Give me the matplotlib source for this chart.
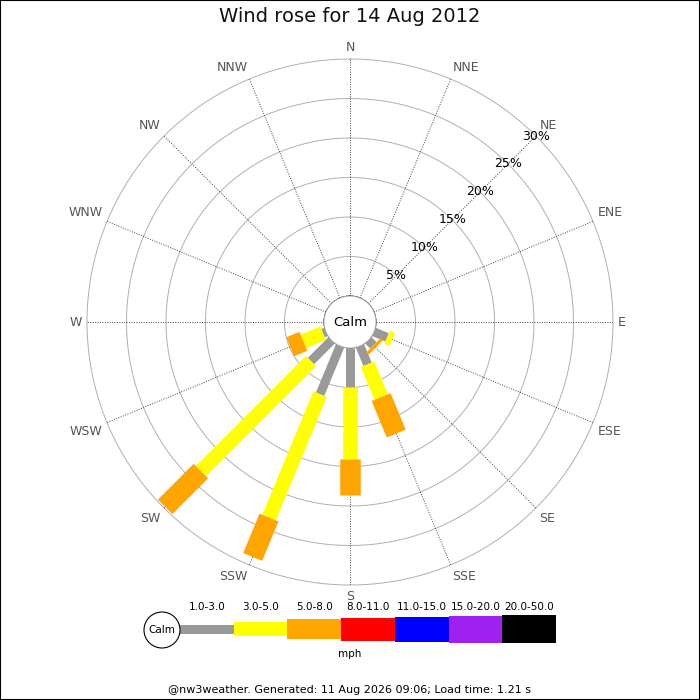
import numpy as np
import matplotlib
matplotlib.use("Agg")
import matplotlib.pyplot as plt
from matplotlib.patches import Circle, Rectangle

# 16 compass points, clockwise from north
directions = ["N", "NNE", "NE", "ENE", "E", "ESE", "SE", "SSE",
              "S", "SSW", "SW", "WSW", "W", "WNW", "NW", "NNW"]

# percent of time per direction and speed band (mph)
pct_1_3 = [0, 0, 0, 0, 0, 1.8, 0.9, 2.5, 4.9, 6.6, 3.7, 0.4, 0, 0, 0, 0]
pct_3_5 = [0, 0, 0, 0, 0, 0.7, 0.0, 4.5, 9.2, 16.9, 19.7, 2.7, 0, 0, 0, 0]
pct_5_8 = [0, 0, 0, 0, 0, 0.0, 0.4, 5.0, 4.5, 5.4, 6.4, 1.8, 0, 0, 0, 0]

speed_ranges = ["1.0-3.0", "3.0-5.0", "5.0-8.0", "8.0-11.0",
                "11.0-15.0", "15.0-20.0", "20.0-50.0"]
range_colors = ["#999999", "#ffff00", "#ffa500", "#ff0000",
                "#0000ff", "#a020f0", "#000000"]
range_px = [9, 14.5, 20.5, 23, 25, 27, 28]   # bar thickness in pixels

rings = [5, 10, 15, 20, 25, 30]

DPI = 100
calm_px = 26.0
outer_px = 263.0
cx, cy = 350, 322
PX = 72.0 / DPI   # points per pixel

fig = plt.figure(figsize=(7, 7), dpi=DPI)

# polar axes positioned in pixels
left = (cx - outer_px) / 700
bottom = (700 - cy - outer_px) / 700
size = 2 * outer_px / 700
ax = fig.add_axes([left, bottom, size, size], projection="polar")
ax.set_theta_zero_location("N")
ax.set_theta_direction(-1)
ax.set_ylim(0, 30)
ax.set_rorigin(-30 * calm_px / (outer_px - calm_px))
ax.grid(False)
ax.set_xticks([])
ax.set_yticks([])
for sp in ax.spines.values():
    sp.set_visible(False)

theta = np.deg2rad(np.arange(16) * 22.5)
full = np.linspace(0, 2 * np.pi, 361)

# grid rings
for r in rings:
    ax.plot(full, np.full_like(full, r), color="#b0b0b0", lw=0.7,
            zorder=1, clip_on=False)
# dotted spokes
for th in theta:
    ax.plot([th, th], [0, 30], color="#444444", lw=0.7,
            linestyle=(0, (1, 1.5)), zorder=1)

# stacked radial bars
bands = [pct_1_3, pct_3_5, pct_5_8]
base = np.zeros(16)
for i, band in enumerate(bands):
    band = np.array(band)
    for th, b0, h in zip(theta, base, band):
        if h > 0:
            ax.plot([th, th], [b0, b0 + h], color=range_colors[i],
                    lw=range_px[i] * PX, solid_capstyle="butt", zorder=3)
    base = base + band

# calm circle in the middle
ax.add_patch(Circle((0.5, 0.5), calm_px / (2 * outer_px),
                    transform=ax.transAxes, facecolor="white",
                    edgecolor="#b0b0b0", lw=0.7, zorder=4, clip_on=False))
ax.text(0.5, 0.5, "Calm", transform=ax.transAxes, ha="center",
        va="center", fontsize=9.5, color="black", zorder=5)

# direction labels just outside the outer ring
gap = 5 / ((outer_px - calm_px) / 30)
for th, name in zip(theta, directions):
    s, c = np.sin(th), np.cos(th)
    ha = "left" if s > 0.1 else ("right" if s < -0.1 else "center")
    va = "bottom" if c > 0.1 else ("top" if c < -0.1 else "center")
    ax.text(th, 30 + gap, name, ha=ha, va=va, fontsize=9,
            color="#555555", clip_on=False)

# percent labels along NE
for r in rings:
    ax.text(np.pi / 4, r, f"{r}%", ha="center", va="center",
            fontsize=9, color="black", zorder=4)

# title
fig.text(0.5, 1 - 17 / 700, "Wind rose for 14 Aug 2012", ha="center",
         va="center", fontsize=14, color="#111111")

# legend strip, axes in pixel units
lx0, lx1, ly0, ly1 = 140, 570, 595, 665
lax = fig.add_axes([lx0 / 700, 1 - ly1 / 700, (lx1 - lx0) / 700,
                    (ly1 - ly0) / 700])
lax.set_xlim(lx0, lx1)
lax.set_ylim(ly1, ly0)
lax.axis("off")
seg_w = 53.7
seg_x = 180 + seg_w * np.arange(len(speed_ranges))
heights = np.array(range_px)
lax.bar(seg_x, heights, bottom=629 - heights / 2, width=seg_w,
        align="edge", color=range_colors, linewidth=0)
for x, lab in zip(seg_x, speed_ranges):
    lax.text(x + seg_w / 2, 607, lab, ha="center", va="center",
             fontsize=7.5, color="black")
lax.add_patch(Circle((162, 630), 18, facecolor="white",
                     edgecolor="black", lw=0.8, zorder=3))
lax.text(162, 630, "Calm", ha="center", va="center", fontsize=7.5, zorder=4)

fig.text(0.5, 1 - 654 / 700, "mph", ha="center", va="center", fontsize=7.5)
fig.text(0.5, 1 - 690 / 700,
         "@nw3weather. Generated: 11 Aug 2026 09:06; Load time: 1.21 s",
         ha="center", va="center", fontsize=8)

fig.patches.append(Rectangle((0, 0), 1, 1, transform=fig.transFigure,
                             fill=False, edgecolor="black", lw=1.5))

fig.savefig("out.png", dpi=DPI)
